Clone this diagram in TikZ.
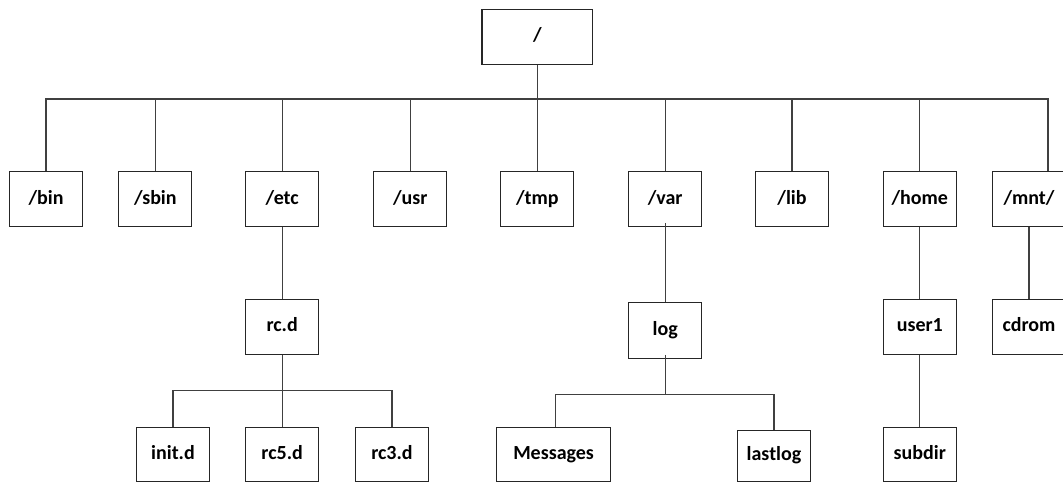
\documentclass[tikz,border=0pt]{standalone}
\usepackage{fontspec}
\setmainfont{Carlito}
\begin{document}
\begin{tikzpicture}[x=1pt,y=-1pt,
  dirbox/.style={draw=black!85, line width=1.1pt, fill=white, inner sep=0pt,
    minimum width=73pt, minimum height=55pt,
    font=\bfseries\fontsize{20}{24}\selectfont, text height=14pt, text depth=4pt},
  conn/.style={draw=black!75, line width=1.1pt}]
\clip (0,0) rectangle (1063,482);
\fill[white] (0,0) rectangle (1063,482);
% root
\node[dirbox, minimum width=110.7pt, minimum height=54.7pt] (root) at (537.3,36.7) {/};
% second level
\node[dirbox] (bin)  at (46,199.2)    {/bin};
\node[dirbox] (sbin) at (155.4,199.2) {/sbin};
\node[dirbox] (etc)  at (282.2,199.2) {/etc};
\node[dirbox] (usr)  at (410.3,199.2) {/usr};
\node[dirbox] (tmp)  at (537.3,199.2) {/tmp};
\node[dirbox] (var)  at (665.2,199.2) {/var};
\node[dirbox] (lib)  at (792,199.2)   {/lib};
\node[dirbox] (home) at (919.8,199.2) {/home};
\node[dirbox] (mnt)  at (1029,199.2)  {/mnt/};
% third level
\node[dirbox, minimum height=54.7pt] (rcd)   at (282.2,326.7) {rc.d};
\node[dirbox, minimum height=55.6pt] (log)   at (665.2,330.5) {log};
\node[dirbox, minimum height=54.7pt] (user1) at (919.8,326.7) {user1};
\node[dirbox, minimum height=54.7pt] (cdrom) at (1029,326.7)  {cdrom};
% fourth level
\node[dirbox, minimum height=53.7pt] (initd)  at (173,454.2)   {init.d};
\node[dirbox, minimum height=53.7pt] (rcfive) at (282.2,454.2) {rc5.d};
\node[dirbox, minimum height=53.7pt] (rcthree) at (392,454.2)  {rc3.d};
\node[dirbox, minimum height=53.7pt, minimum width=114pt] (msg) at (553.6,454.2) {Messages};
\node[dirbox, minimum height=50.3pt, minimum width=72.2pt] (lastlog) at (774,455.9) {lastlog};
\node[dirbox, minimum height=53.7pt] (subdir) at (919.8,454.2) {subdir};
% buses
\coordinate (busa) at (0,99);
\coordinate (busb) at (0,390.7);
\coordinate (busc) at (0,394.3);
\coordinate (mnttop) at ([xshift=19pt]mnt.north);
% level 1 -> 2
\draw[conn] (root.south) -- (tmp.north);
\draw[conn] (bin.north) -- (bin.north |- busa) -- (mnttop |- busa) -- (mnttop);
\foreach \n in {sbin,etc,usr,var,lib,home}
  \draw[conn] (\n.north) -- (\n.north |- busa);
% /etc subtree
\draw[conn] (etc.south) -- (rcd.north);
\draw[conn] (rcd.south) -- (rcfive.north);
\draw[conn] (initd.north) -- (initd.north |- busb) -- (rcthree.north |- busb) -- (rcthree.north);
% /var subtree
\draw[conn] ([yshift=4.5pt]var.south) -- (log.north);
\draw[conn] ([yshift=4pt]log.south) -- (log.south |- busc);
\draw[conn] ([xshift=2pt]msg.north) -- ([xshift=2pt]msg.north |- busc) -- (lastlog.north |- busc) -- (lastlog.north);
% /home subtree
\draw[conn] (home.south) -- (user1.north);
\draw[conn] (user1.south) -- (subdir.north);
% /mnt subtree
\draw[conn] (mnt.south) -- (cdrom.north);
\end{tikzpicture}
\end{document}
